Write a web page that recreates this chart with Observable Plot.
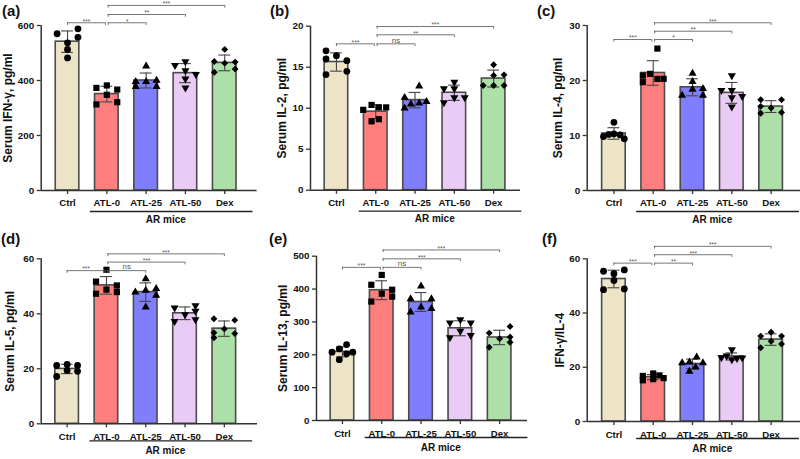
<!DOCTYPE html>
<html><head><meta charset="utf-8">
<script src="https://cdn.jsdelivr.net/npm/d3@7"></script>
<script src="https://cdn.jsdelivr.net/npm/@observablehq/plot@0.6"></script>
<style>
body{margin:0;background:#fff;font-family:"Liberation Sans",Arial,sans-serif;}
#wrap{position:relative;width:800px;height:459px;overflow:hidden;background:#fff;}
.panel{position:absolute;}
.plabel{position:absolute;font-size:15px;font-weight:bold;color:#111;line-height:1;}
</style></head><body><div id="wrap"></div>
<script>
const groups = ["Ctrl", "ATL-0", "ATL-25", "ATL-50", "Dex"];

// (a) Serum IFN-γ, pg/ml — six mice per group
const ifnGamma = [
  [570, 588, 557, 537, 513, 482],
  [373, 382, 367, 348, 313, 321],
  [452, 396, 396, 400, 378, 378],
  [455, 469, 436, 422, 406, 373],
  [513, 469, 463, 467, 430, 442]
];
const ifnGammaTicks = [0, 200, 400, 600];
const ifnGammaSig = [["Ctrl","ATL-0","***",610],["ATL-0","ATL-25","*",610],["ATL-0","ATL-50","**",640],["ATL-0","Dex","***",673]];

// (b) Serum IL-2, pg/ml
const il2 = [
  [17.0, 16.4, 16.0, 15.8, 14.5, 14.1],
  [10.4, 10.1, 10.1, 9.8, 8.66, 8.4],
  [12.7, 11.3, 10.5, 10.6, 10.8, 10.0],
  [12.4, 13.2, 12.4, 11.3, 11.3, 10.7],
  [15.3, 14.0, 14.07, 12.77, 12.77, 12.77]
];
const il2Ticks = [0, 5, 10, 15, 20];
const il2Sig = [["Ctrl","ATL-0","***",17.85],["ATL-0","ATL-25","ns",17.85],["ATL-0","ATL-50","**",18.95],["ATL-0","Dex","***",19.96]];

// (c) Serum IL-4, pg/ml
const il4 = [
  [12.4, 9.8, 10.2, 10.3, 10.1, 9.4],
  [25.8, 20.9, 21.2, 19.7, 20.3, 20.3],
  [21.3, 19.8, 18.4, 18.5, 17.3, 17.3],
  [18.2, 20.9, 18.2, 17.1, 16.9, 15.2],
  [16.5, 16.5, 15.3, 15.0, 14.2, 14.05]
];
const il4Ticks = [0, 10, 20, 30];
const il4Sig = [["Ctrl","ATL-0","***",27.45],["ATL-0","ATL-25","*",27.45],["ATL-0","ATL-50","**",28.96],["ATL-0","Dex","***",30.5]];

// (d) Serum IL-5, pg/ml
const il5 = [
  [21.2, 21.6, 21.2, 19.4, 19.1, 17.2],
  [56.0, 51.7, 50.3, 48.8, 47.3, 47.9],
  [52.7, 47.9, 48.5, 49.1, 46.7, 42.4],
  [42.2, 43.0, 41.0, 39.7, 37.3, 37.9],
  [38.2, 37.7, 34.5, 33.1, 32.8, 31.3]
];
const il5Ticks = [0, 20, 40, 60];
const il5Sig = [["Ctrl","ATL-0","***",55.7],["ATL-0","ATL-25","ns",55.7],["ATL-0","ATL-50","***",58.8],["ATL-0","Dex","***",61.8]];

// (e) Serum IL-13, pg/ml
const il13 = [
  [231, 218, 208, 203, 208, 185],
  [443, 413, 398, 386, 377, 362],
  [409, 370, 370, 345, 330, 340],
  [297, 307, 297, 272, 252, 259],
  [286, 266, 249, 254, 238, 223]
];
const il13Ticks = [0, 100, 200, 300, 400, 500];
const il13Sig = [["Ctrl","ATL-0","***",466],["ATL-0","ATL-25","ns",466],["ATL-0","ATL-50","***",492],["ATL-0","Dex","***",519]];

// (f) IFN-γ/IL-4
const ratio = [
  [55.4, 55.9, 54.5, 52.0, 48.6, 48.9],
  [16.8, 17.7, 17.0, 15.2, 15.6, 16.0],
  [23.7, 21.9, 21.6, 21.6, 20.0, 18.5],
  [26.5, 24.2, 23.6, 23.3, 23.5, 22.8],
  [32.9, 31.5, 31.5, 29.6, 27.2, 28.6]
];
const ratioTicks = [0, 20, 40, 60];
const ratioSig = [["Ctrl","ATL-0","***",58.4],["ATL-0","ATL-25","**",58.4],["ATL-0","ATL-50","***",61.5],["ATL-0","Dex","***",64.6]];

// ---- styling / layout (not data) ----
const barColors = ["#ede3c7", "#ff7f7f", "#7f7ffd", "#eacbf5", "#ace0a8"];
const symbols = ["circle", "square", "triangle", "triangle", "diamond2"];
const symR = [3.4, 3.5, 3.0, 3.0, 3.1];
const symRot = [0, 0, 0, 180, 0];
// horizontal scatter columns of each dot within its bar (layout)
const jitter = {
  a: [[-1,1,1,0,0,0],[-1,0,1,0,-1,1],[0,-1,0,1,-1,1],[-1,0,0,1,0,0],[0,-1,0,1,-1,1]],
  b: [[-1,0,-1,1,1,-1],[-0.4,0.3,1,-1.2,0.3,-0.4],[0.4,-1,-0.4,0.4,1.1,-1],[-1,0,0,0,1,-1],[0,0,1,-1,0,1]],
  c: [[0,-1,-0.5,0,0.6,1],[0.4,-1,-0.3,-1,0.4,1],[0,0,0,1,-1,1],[-1,0,0,1,0,0],[-1,1,-1,0,1,-1]],
  d: [[-1,0,1,0,1,-1],[0,-1,1,0,-1,1],[0,-1,0,1,1,0],[-1,1,1,0,-1,1],[-1,1,0,-1,1,-1]],
  e: [[0.4,-0.3,-1,0.4,1,-0.3],[0,-1,1,0,1,-1],[0,-1,1,0,-1,1],[-1,0,1,0,-1,1],[1,-1,0,1,1,-1]],
  f: [[-1,1,0,0,-1,1],[-1,0,0.6,-1,0,1],[0.4,-0.3,-1,1,0.3,-0.3],[0,-0.5,-1,0.5,1,0],[0,-1,1,0,-1,1]]
};
const JIT = 0.265, HALF = 0.3, CAP = 0.15, GAP = 0.035;

const panels = [
  {id:"(a)", key:"a", values: ifnGamma, ticks: ifnGammaTicks, sig: ifnGammaSig, ylabel: "Serum IFN-γ, pg/ml",
   left: 0, top: 0, width: 265, height: 229, ml: 40.7, mr: 8.4, mt: 25, mb: 39, xmin: -0.67, ydx: -33, row: 0, lx: 2, ly: 3},
  {id:"(b)", key:"b", values: il2, ticks: il2Ticks, sig: il2Sig, ylabel: "Serum IL-2, pg/ml",
   left: 265, top: 0, width: 265, height: 229, ml: 45, mr: 10, mt: 25.7, mb: 39.3, xmin: -0.66, ydx: -28, row: 0, lx: 270, ly: 3},
  {id:"(c)", key:"c", values: il4, ticks: il4Ticks, sig: il4Sig, ylabel: "Serum IL-4, pg/ml",
   left: 530, top: 0, width: 270, height: 229, ml: 56.7, mr: 0, mt: 25, mb: 39, xmin: -0.68, ydx: -29, row: 0, lx: 537, ly: 3},
  {id:"(d)", key:"d", values: il5, ticks: il5Ticks, sig: il5Sig, ylabel: "Serum IL-5, pg/ml",
   left: 0, top: 229, width: 265, height: 230, ml: 40.7, mr: 8, mt: 29.3, mb: 35.7, xmin: -0.66, ydx: -31, row: 1, lx: 1, ly: 231},
  {id:"(e)", key:"e", values: il13, ticks: il13Ticks, sig: il13Sig, ylabel: "Serum IL-13, pg/ml",
   left: 265, top: 229, width: 265, height: 230, ml: 51, mr: 3, mt: 26.7, mb: 39, xmin: -0.66, ydx: -33, row: 1, lx: 269, ly: 231},
  {id:"(f)", key:"f", values: ratio, ticks: ratioTicks, sig: ratioSig, ylabel: "IFN-γ/IL-4",
   left: 530, top: 229, width: 270, height: 230, ml: 56.7, mr: 0, mt: 29.3, mb: 38, xmin: -0.68, ydx: -27, row: 1, lx: 542, ly: 231}
];
const rowStyle = [{pad: 4.5, lineDy: 21, textDy: 29}, {pad: 5.5, lineDy: 17, textDy: 27}];

const wrap = document.getElementById("wrap");
const iA = groups.indexOf("ATL-0"), iD = groups.indexOf("Dex");

for (const P of panels) {
  const ymax = P.ticks[P.ticks.length - 1];
  const frameW = P.width - P.ml - P.mr;
  const step = 39.3;
  const xmax = P.xmin + frameW / step;
  const frameH = P.height - P.mt - P.mb;
  const tickLen = 2.7 * ymax / frameH;
  const R = rowStyle[P.row];
  const cols = jitter[P.key];

  const stats = P.values.map((v, i) => ({i, mean: d3.mean(v), sd: d3.deviation(v)}));
  const pts = P.values.flatMap((v, i) => v.map((y, j) => ({i, y, c: cols[i][j]})));
  const bk = P.sig.map(([a, b, t, y]) => {
    let x1 = groups.indexOf(a), x2 = groups.indexOf(b);
    if (b === "ATL-0") x2 -= GAP;
    if (a === "ATL-0") x1 += GAP;
    return {x1, x2, t, y};
  });

  const marks = [
    Plot.rect(stats, {x1: d => d.i - HALF, x2: d => d.i + HALF, y1: 0, y2: "mean",
      fill: d => barColors[d.i], stroke: "#4b4b4b", strokeWidth: 1.6}),
    Plot.ruleX(stats, {x: "i", y1: d => d.mean - d.sd, y2: d => d.mean + d.sd, stroke: "#444", strokeWidth: 1.1}),
    Plot.ruleY(stats, {x1: d => d.i - CAP, x2: d => d.i + CAP, y: d => d.mean + d.sd, stroke: "#444", strokeWidth: 1.1}),
    Plot.ruleY(stats, {x1: d => d.i - CAP, x2: d => d.i + CAP, y: d => d.mean - d.sd, stroke: "#444", strokeWidth: 1.1}),
    ...groups.map((g, i) => Plot.dot(pts.filter(p => p.i === i), {
      x: p => p.i + p.c * JIT, y: "y", symbol: symbols[i], r: symR[i], rotate: symRot[i], fill: "#000", stroke: "none"})),
    Plot.ruleY(bk, {x1: "x1", x2: "x2", y: "y", stroke: "#666", strokeWidth: 0.9}),
    Plot.ruleX(bk, {x: "x1", y1: "y", y2: d => d.y - tickLen, stroke: "#666", strokeWidth: 0.9}),
    Plot.ruleX(bk, {x: "x2", y1: "y", y2: d => d.y - tickLen, stroke: "#666", strokeWidth: 0.9}),
    Plot.text(bk.filter(d => d.t !== "ns"), {x: d => (d.x1 + d.x2) / 2, y: "y", text: "t", lineAnchor: "bottom", dy: 0.8,
      fontSize: 6.5, fontWeight: "normal", fill: "#555"}),
    Plot.text(bk.filter(d => d.t === "ns"), {x: d => (d.x1 + d.x2) / 2, y: "y", text: "t", lineAnchor: "bottom", dy: -1.2,
      fontSize: 8, fontWeight: "normal", fill: "#555"}),
    Plot.ruleX([P.xmin], {stroke: "#333", strokeWidth: 1.5}),
    Plot.ruleY([0], {stroke: "#333", strokeWidth: 1.5}),
    Plot.axisY({ticks: P.ticks, tickSize: 4, tickPadding: 3, label: null, fontSize: 9.8, fontWeight: "bold",
      stroke: "#333", strokeWidth: 1.3, fill: "#111"}),
    Plot.axisX({ticks: d3.range(groups.length), tickFormat: i => groups[i], tickSize: 4, tickPadding: R.pad, label: null,
      fontSize: 9.6, fontWeight: "bold", stroke: "#333", strokeWidth: 1.3, fill: "#111"}),
    Plot.ruleY([0], {x1: iA - 0.42, x2: iD + 0.72, dy: R.lineDy, stroke: "#222", strokeWidth: 1.3}),
    Plot.text(["AR mice"], {x: () => (iA + iD) / 2, y: () => 0, text: d => d, dy: R.textDy, lineAnchor: "middle",
      fontSize: 10, fontWeight: "bold", fill: "#111"}),
    Plot.text([P.ylabel], {frameAnchor: "left", text: d => d, rotate: -90, dx: P.ydx, textAnchor: "middle", lineAnchor: "middle",
      fontSize: 12, fontWeight: "bold", fill: "#111"})
  ];

  const svg = Plot.plot({
    width: P.width, height: P.height,
    marginLeft: P.ml, marginRight: P.mr, marginTop: P.mt, marginBottom: P.mb,
    x: {type: "linear", domain: [P.xmin, xmax]},
    y: {type: "linear", domain: [0, ymax]},
    style: {fontFamily: "'Liberation Sans', Arial, sans-serif", background: "transparent", overflow: "visible"},
    marks
  });
  const div = document.createElement("div");
  div.className = "panel";
  div.style.left = P.left + "px"; div.style.top = P.top + "px";
  div.style.width = P.width + "px"; div.style.height = P.height + "px";
  div.appendChild(svg);
  wrap.appendChild(div);

  const lab = document.createElement("div");
  lab.className = "plabel";
  lab.style.left = P.lx + "px"; lab.style.top = P.ly + "px";
  lab.textContent = P.id;
  wrap.appendChild(lab);
}
</script></body></html>
